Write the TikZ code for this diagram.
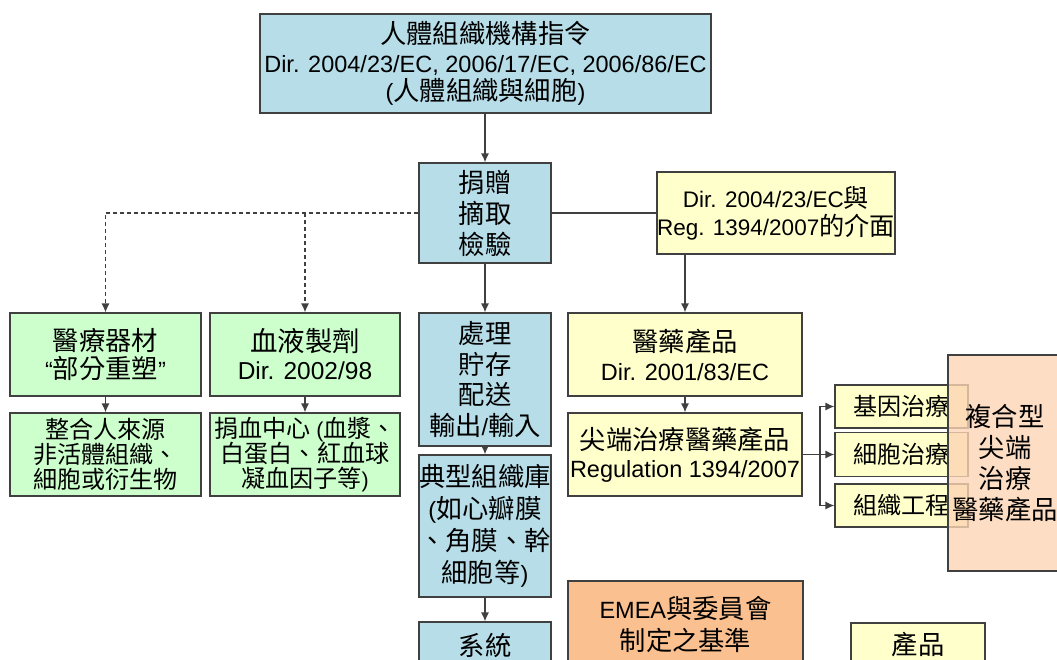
\documentclass[tikz,border=0pt]{standalone}
\usepackage{fontspec}
\setmainfont{Liberation Sans}
\newfontfamily\cjk[Scale=1.12]{Noto Sans CJK TC}
\newcommand\C[1]{{\cjk #1}}
\usetikzlibrary{arrows.meta}
\definecolor{bluef}{RGB}{183,221,232}
\definecolor{greenf}{RGB}{204,255,204}
\definecolor{yellowf}{RGB}{255,255,204}
\definecolor{orangef}{RGB}{250,192,143}
\definecolor{peachf}{RGB}{252,213,180}
\definecolor{edgec}{RGB}{64,64,64}
\tikzset{
  box/.style={draw=edgec, line width=1.2pt, inner sep=0pt, align=center},
  bbox/.style={box, fill=bluef},
  gbox/.style={box, fill=greenf},
  ybox/.style={box, fill=yellowf},
  obox/.style={box, fill=orangef},
  conn/.style={draw=edgec, line width=1.2pt, -{Latex[length=9pt,width=8pt]}},
  dconn/.style={conn, dashed, dash pattern=on 4pt off 3pt},
  plainline/.style={draw=edgec, line width=1.2pt},
}
\begin{document}
\begin{tikzpicture}[x=1pt,y=-1pt]
\useasboundingbox (0,0) rectangle (1057,659);
\clip (0,0) rectangle (1057,659);
% top
\node[bbox, minimum width=451pt, minimum height=99pt, font=\fontsize{23.5}{28.5}\selectfont] (top) at (485.5,63.5)
  {\C{人體組織機構指令}\\Dir. 2004/23/EC, 2006/17/EC, 2006/86/EC\\(\C{人體組織與細胞})};
\node[bbox, minimum width=132pt, minimum height=100pt, font=\fontsize{23.5}{31}\selectfont] (don) at (485,213)
  {\C{捐贈}\\\C{摘取}\\\C{檢驗}};
\node[ybox, minimum width=234pt, minimum height=82pt, font=\fontsize{22.5}{28}\selectfont] (iface) at (776,213)
  {Dir. 2004/23/EC\C{與}\\Reg. 1394/2007\C{的介面}};
% green column
\node[gbox, minimum width=191pt, minimum height=83pt, font=\fontsize{23.5}{28}\selectfont] (meddev) at (105.5,354.5)
  {\C{醫療器材}\\“\C{部分重塑}”};
\node[gbox, minimum width=190pt, minimum height=83pt, font=\fontsize{24.5}{28}\selectfont] (blood) at (305,354.5)
  {\C{血液製劑}\\Dir. 2002/98};
\node[gbox, minimum width=191pt, minimum height=83pt, font=\fontsize{21.5}{25}\selectfont] (int) at (105.5,454.5)
  {\C{整合人來源}\\\C{非活體組織、}\\\C{細胞或衍生物}};
\node[gbox, minimum width=190pt, minimum height=83pt, font=\fontsize{21.5}{25}\selectfont] (bc) at (305,454.5)
  {\C{捐血中心} (\C{血漿、}\\\C{白蛋白、紅血球}\\\C{凝血因子等})};
% blue column
\node[bbox, minimum width=132pt, minimum height=133pt, font=\fontsize{23.5}{30.5}\selectfont] (proc) at (485,379.5)
  {\C{處理}\\\C{貯存}\\\C{配送}\\\C{輸出}/\C{輸入}};
\node[bbox, minimum width=132pt, minimum height=142pt, font=\fontsize{23.5}{32}\selectfont] (bank) at (485,526)
  {\C{典型組織庫}\\(\C{如心瓣膜}\\\C{、角膜、幹}\\\C{細胞等})};
\node[bbox, minimum width=132pt, minimum height=46pt, font=\fontsize{23.5}{28}\selectfont] (sys) at (485,645)
  {\C{系統}};
% yellow column
\node[ybox, minimum width=234pt, minimum height=83pt, font=\fontsize{23.5}{29}\selectfont] (pharm) at (685,354.5)
  {\C{醫藥產品}\\Dir. 2001/83/EC};
\node[ybox, minimum width=234pt, minimum height=83pt, font=\fontsize{23.5}{28}\selectfont] (atmp) at (685,454.5)
  {\C{尖端治療醫藥產品}\\Regulation 1394/2007};
\node[ybox, minimum width=133pt, minimum height=43pt, font=\fontsize{21.5}{26}\selectfont] (gene) at (901.5,406.5) {\C{基因治療}};
\node[ybox, minimum width=133pt, minimum height=44pt, font=\fontsize{21.5}{26}\selectfont] (cell) at (901.5,454.5) {\C{細胞治療}};
\node[ybox, minimum width=133pt, minimum height=43pt, font=\fontsize{21.5}{26}\selectfont] (tiss) at (901.5,505.5) {\C{組織工程}};
\node[box, fill=peachf, fill opacity=0.8, text opacity=1, minimum width=114pt, minimum height=216pt, font=\fontsize{23.5}{31}\selectfont] (combo) at (1005,463)
  {\C{複合型}\\\C{尖端}\\\C{治療}\\\C{醫藥產品}};
\node[obox, minimum width=235pt, minimum height=86pt, font=\fontsize{23.5}{32}\selectfont] (emea) at (685.5,624)
  {EMEA\C{與委員會}\\\C{制定之基準}};
\node[ybox, minimum width=134pt, minimum height=44pt, font=\fontsize{23.5}{28}\selectfont] (prod) at (918,645)
  {\C{產品}};
% connectors
\draw[conn] (don.north |- top.south) -- (don.north);
\draw[plainline] (don.east) -- (iface.west);
\draw[dconn] (don.west) -| (meddev.north);
\draw[dconn] (don.west -| blood.north) -- (blood.north);
\draw[conn] (meddev.south) -- (int.north);
\draw[conn] (blood.south) -- (bc.north);
\draw[conn] (don.south) -- (proc.north);
\draw[conn] (proc.south) -- (bank.north);
\draw[conn] (bank.south) -- (sys.north);
\draw[conn] (iface.south -| pharm.north) -- (pharm.north);
\draw[conn] (pharm.south) -- (atmp.north);
\coordinate (br) at (820,454.5);
\draw[plainline] (atmp.east) -- (br);
\draw[conn] (br) |- (gene.west);
\draw[conn] (br) -- (cell.west);
\draw[conn] (br) |- (tiss.west);
\end{tikzpicture}
\end{document}
